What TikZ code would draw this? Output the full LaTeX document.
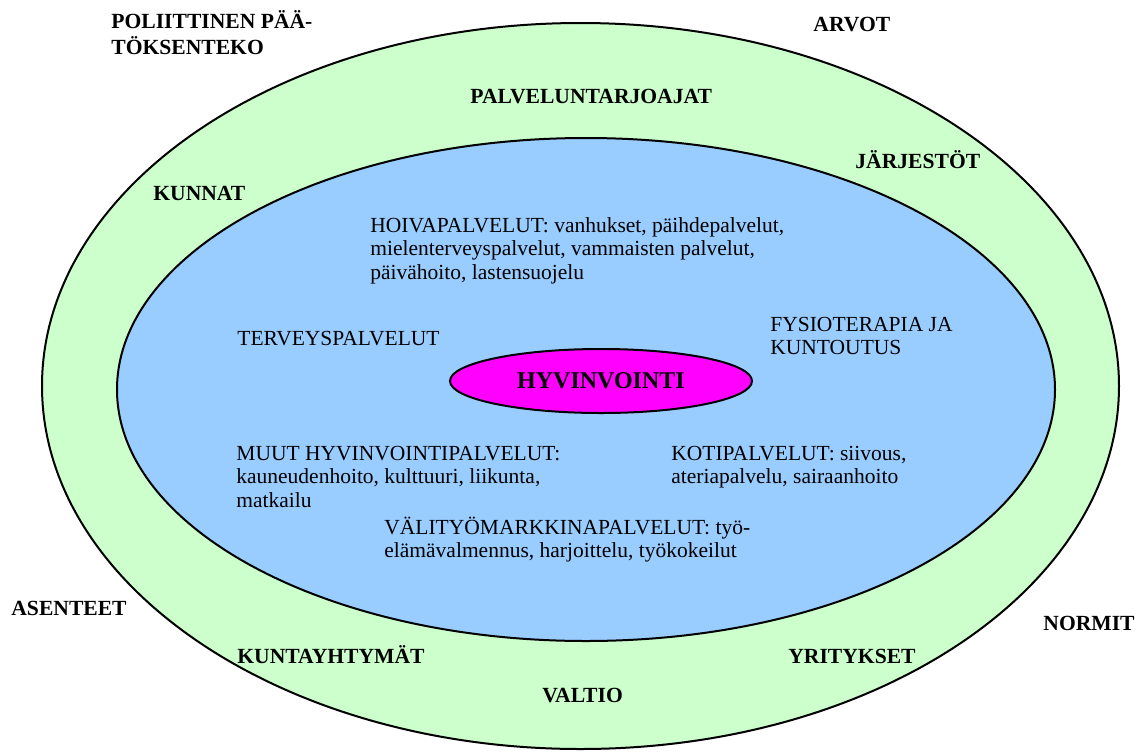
\documentclass[tikz,border=0pt]{standalone}
\usepackage{fontspec}
\setmainfont{Liberation Serif}
\usepackage{tikz}
\usetikzlibrary{shapes}
\definecolor{ringgreen}{HTML}{CCFFCC}
\definecolor{servblue}{HTML}{99CCFF}
\definecolor{coremagenta}{HTML}{FF00FF}
\tikzstyle{ring} = [draw, line width=1pt]
\tikzstyle{tag} = [inner sep=0pt, anchor=base west, align=left,
    font=\fontsize{10.8}{13}\selectfont\bfseries]
\tikzstyle{service} = [inner sep=0pt, anchor=base west, align=left,
    font=\fontsize{10.75}{11.75}\selectfont]
\tikzstyle{core} = [ellipse, draw, line width=1pt, fill=coremagenta, inner sep=0pt,
    minimum width=151pt, minimum height=32pt, font=\fontsize{12}{14}\selectfont\bfseries]

\begin{document}
\begin{tikzpicture}[x=0.5pt, y=-0.5pt]
  \useasboundingbox (0,0) rectangle (1137,751);
  \draw [ring, fill=ringgreen] (580.5,386) ellipse [x radius=269.25pt, y radius=181.5pt];
  \draw [ring, fill=servblue] (586,389.5) ellipse [x radius=234.5pt, y radius=125.75pt];
  \node [core] (hyvinvointi) at (601,381) {HYVINVOINTI};
  % outside (base = last line)
  \node [tag] (politiikka) at (111,54) {POLIITTINEN PÄÄ-\\TÖKSENTEKO};
  \node [tag] (arvot) at (813,31) {ARVOT};
  \node [tag] (asenteet) at (11,615) {ASENTEET};
  \node [tag] (normit) at (1043,630) {NORMIT};
  % ring
  \node [tag] (tarjoajat) at (470,103) {PALVELUNTARJOAJAT};
  \node [tag] (jarjestot) at (855,168) {JÄRJESTÖT};
  \node [tag] (kunnat) at (153,200) {KUNNAT};
  \node [tag] (kuntayhtymat) at (237,663) {KUNTAYHTYMÄT};
  \node [tag] (yritykset) at (788,663) {YRITYKSET};
  \node [tag] (valtio) at (542,702) {VALTIO};
  % services
  \node [service] (hoiva) at (370,279) {HOIVAPALVELUT: vanhukset, päihdepalvelut,\\
    mielenterveyspalvelut, vammaisten palvelut,\\päivähoito, lastensuojelu};
  \node [service] (terveys) at (237,345) {TERVEYSPALVELUT};
  \node [service] (fysio) at (770,354.5) {FYSIOTERAPIA JA\\KUNTOUTUS};
  \node [service] (muut) at (236,507) {MUUT HYVINVOINTIPALVELUT:\\
    kauneudenhoito, kulttuuri, liikunta,\\matkailu};
  \node [service] (koti) at (671,483.5) {KOTIPALVELUT: siivous,\\ateriapalvelu, sairaanhoito};
  \node [service] (valityo) at (384,557.5) {VÄLITYÖMARKKINAPALVELUT: työ-\\
    elämävalmennus, harjoittelu, työkokeilut};
\end{tikzpicture}
\end{document}
